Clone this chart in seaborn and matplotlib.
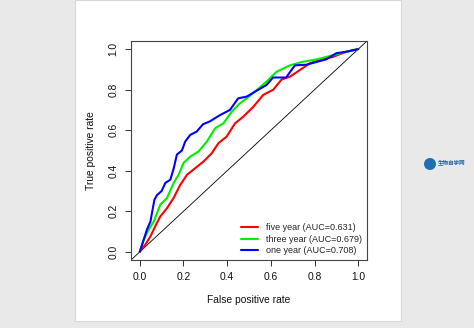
import numpy as np
import pandas as pd
import matplotlib
matplotlib.use("Agg")
import matplotlib.pyplot as plt
import seaborn as sns
from matplotlib.patches import Rectangle, Ellipse

sns.set_theme(style="white")
plt.rcParams['font.family'] = ['Liberation Sans', 'Noto Sans CJK SC', 'DejaVu Sans']

# ROC curve points
one_fpr = [0, 0.011, 0.033, 0.049, 0.067, 0.079, 0.10, 0.117, 0.14, 0.155, 0.17, 0.193, 0.208,
           0.231, 0.26, 0.29, 0.32, 0.368, 0.413, 0.45, 0.49, 0.535, 0.58, 0.61, 0.67, 0.71,
           0.763, 0.80, 0.854, 0.90, 0.945, 1.0]
one_tpr = [0, 0.036, 0.11, 0.15, 0.257, 0.28, 0.30, 0.34, 0.356, 0.41, 0.48, 0.50, 0.544,
           0.577, 0.593, 0.63, 0.643, 0.675, 0.70, 0.757, 0.766, 0.795, 0.823, 0.86, 0.86, 0.92,
           0.923, 0.934, 0.95, 0.98, 0.987, 1.0]
three_fpr = [0, 0.018, 0.041, 0.064, 0.094, 0.125, 0.155, 0.178, 0.20, 0.231, 0.269, 0.307,
             0.345, 0.383, 0.42, 0.459, 0.489, 0.527, 0.58, 0.626, 0.687, 0.748, 0.808, 0.885,
             0.945, 1.0]
three_tpr = [0, 0.06, 0.11, 0.15, 0.233, 0.266, 0.34, 0.38, 0.438, 0.47, 0.495, 0.544,
             0.61, 0.634, 0.69, 0.733, 0.757, 0.79, 0.84, 0.888, 0.92, 0.938, 0.949, 0.97,
             0.987, 1.0]
five_fpr = [0, 0.026, 0.049, 0.071, 0.094, 0.125, 0.155, 0.185, 0.216, 0.254, 0.292, 0.33,
            0.36, 0.398, 0.436, 0.474, 0.52, 0.565, 0.611, 0.649, 0.687, 0.733, 0.778, 0.824,
            0.885, 0.945, 1.0]
five_tpr = [0, 0.036, 0.077, 0.126, 0.175, 0.216, 0.266, 0.33, 0.38, 0.413, 0.446, 0.487,
            0.536, 0.569, 0.634, 0.667, 0.716, 0.774, 0.80, 0.85, 0.864, 0.897, 0.93, 0.946,
            0.962, 0.987, 1.0]

labels = ["five year (AUC=0.631)", "three year (AUC=0.679)", "one year (AUC=0.708)"]
colors = ["#FF0000", "#00EE00", "#0000FF"]
ticks = [0.0, 0.2, 0.4, 0.6, 0.8, 1.0]
tick_labels = ["0.0", "0.2", "0.4", "0.6", "0.8", "1.0"]

frames = []
for lab, fx, ty in zip(labels, [five_fpr, three_fpr, one_fpr], [five_tpr, three_tpr, one_tpr]):
    frames.append(pd.DataFrame({"fpr": fx, "tpr": ty, "curve": lab}))
df = pd.concat(frames, ignore_index=True)

fig = plt.figure(figsize=(4.74, 3.28), dpi=100)
fig.patch.set_facecolor("#e9e9e9")
fig.patches.append(Rectangle((75 / 474, 1 - 321 / 328), 326 / 474, 321 / 328,
                             transform=fig.transFigure, facecolor="white",
                             edgecolor="#d8d8d8", lw=0.8, zorder=-5))

ax = fig.add_axes([131 / 474, 1 - 260 / 328, 236 / 474, 219 / 328])
ax.set_zorder(2)
ax.set_facecolor("white")

ax.plot([-0.04, 1.04], [-0.04, 1.04], color="black", lw=0.6, zorder=1)
sns.lineplot(data=df, x="fpr", y="tpr", hue="curve", hue_order=labels, palette=colors,
             sort=False, estimator=None, lw=1.5, ax=ax, legend=False, zorder=2)

ax.set_xlim(-0.04, 1.04)
ax.set_ylim(-0.04, 1.04)
ax.set_xticks(ticks)
ax.set_xticklabels(tick_labels)
ax.set_yticks(ticks)
ax.set_yticklabels(tick_labels, rotation=90, va="center")
ax.tick_params(axis="both", direction="out", length=4, width=0.7, color="#333333",
               labelsize=7.4, pad=5, bottom=True, left=True, labelcolor="#111111")
for s in ax.spines.values():
    s.set_color("#444444")
    s.set_linewidth(0.8)
ax.set_xlabel("False positive rate", fontsize=7.4, labelpad=9, color="#111111")
ax.set_ylabel("True positive rate", fontsize=7.4, labelpad=9, color="#111111")

handles = [plt.Line2D([], [], color=c, lw=1.5) for c in colors]
ax.legend(handles, labels, loc="lower right", bbox_to_anchor=(1.0, 0.0), frameon=False,
          fontsize=6.5, handlelength=1.9, handletextpad=0.9, labelspacing=0.3,
          borderaxespad=0.2, borderpad=0.3)

# watermark logo at the right
fig.patches.append(Ellipse((430 / 474, 1 - 164 / 328), 12 / 474, 12 / 328,
                           transform=fig.transFigure, facecolor="#1f6fb5", edgecolor="none"))
fig.text(438 / 474, 1 - 162 / 328, "生物自学网", fontsize=4, color="#1f5fb0",
         fontweight="bold", va="center", ha="left")

fig.savefig("out.png", dpi=100, facecolor=fig.get_facecolor())
